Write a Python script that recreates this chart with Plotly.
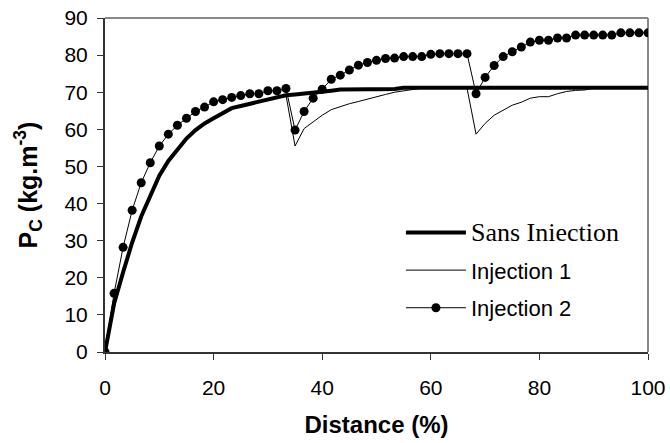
import plotly.graph_objects as go

# x grid (Distance %), 61 points
distance = [i * 100 / 60 for i in range(61)]

sans_injection = [
    0, 13, 21.5, 29.5, 36.5, 42, 47.5, 51.5, 54.5, 57.5,
    59.8, 61.6, 63.0, 64.5, 65.7, 66.3, 66.9, 67.5, 68.1, 68.6,
    69.2, 69.4, 69.6, 70.0, 70.0, 70.4, 70.7, 70.8, 70.8, 70.8,
    70.8, 70.8, 70.9, 71.2, 71.2, 71.2, 71.2, 71.2, 71.2, 71.2,
    71.2, 71.2, 71.2, 71.2, 71.2, 71.2, 71.2, 71.2, 71.2, 71.2,
    71.2, 71.2, 71.2, 71.2, 71.2, 71.2, 71.2, 71.2, 71.2, 71.2,
    71.2,
]

injection_1 = [
    0, 13, 21.5, 29.5, 36.5, 42, 47.5, 51.5, 54.5, 57.5,
    59.8, 61.6, 63.0, 64.5, 65.7, 66.3, 66.9, 67.5, 68.1, 68.6,
    69.2, 55.5, 60.2, 62.0, 63.8, 65.3, 66.2, 66.9, 67.5, 68.2,
    68.8, 69.4, 70.0, 70.4, 70.6, 71.1, 71.1, 71.1, 71.1, 71.1,
    71.1, 58.7, 61.6, 63.8, 65.2, 66.5, 67.3, 68.4, 68.8, 68.8,
    69.6, 70.2, 70.5, 70.6, 71.1, 71.1, 71.1, 71.1, 71.1, 71.1,
    71.1,
]

injection_2 = [
    0, 15.8, 28.2, 38.2, 45.6, 51.0, 55.5, 58.7, 61.1, 63.0,
    64.8, 66.0, 67.4, 68.0, 68.6, 69.1, 69.6, 69.6, 70.4, 70.4,
    71.0, 59.8, 64.8, 68.4, 70.8, 73.5, 74.6, 76.0, 77.3, 78.0,
    78.6, 79.1, 79.2, 79.6, 79.6, 79.6, 80.2, 80.4, 80.4, 80.4,
    80.4, 69.6, 74.0, 77.2, 79.6, 80.9, 82.2, 83.5, 84.0, 84.0,
    84.6, 84.6, 85.4, 85.4, 85.4, 85.4, 85.4, 86.0, 86.0, 86.0,
    86.0,
]

x_ticks = [0, 20, 40, 60, 80, 100]
y_ticks = [0, 10, 20, 30, 40, 50, 60, 70, 80, 90]

fig = go.Figure()
fig.add_trace(go.Scatter(
    x=distance, y=sans_injection, mode="lines",
    name='<span style="font-family:Liberation Serif;font-size:26px">Sans Iniection</span>',
    line=dict(color="black", width=4), legendgroup="a",
))
fig.add_trace(go.Scatter(
    x=distance, y=injection_1, mode="lines", name="Injection 1",
    line=dict(color="black", width=1), legendgroup="b",
))
fig.add_trace(go.Scatter(
    x=distance, y=injection_2, mode="lines+markers", name="Injection 2",
    line=dict(color="black", width=1),
    marker=dict(color="black", size=9, symbol="circle"), legendgroup="c",
))

font_family = "Liberation Sans, Arial, sans-serif"
fig.update_layout(
    width=670, height=443,
    margin=dict(l=105, r=22, t=18, b=91, autoexpand=False),
    paper_bgcolor="white", plot_bgcolor="white",
    font=dict(family=font_family, color="black", size=21),
    showlegend=True,
    legend=dict(
        x=0.545, y=0.42, xanchor="left", yanchor="top",
        bgcolor="rgba(0,0,0,0)", font=dict(size=22, family=font_family),
        tracegroupgap=6, traceorder="grouped", itemwidth=60,
    ),
    xaxis=dict(
        range=[0, 100], tickvals=x_ticks, showgrid=False, zeroline=False,
        automargin=False,
        showline=True, linecolor="#333333", linewidth=2,
        ticks="outside", ticklen=6, tickcolor="#333333", tickwidth=1,
        ticklabelstandoff=10,
        tickfont=dict(size=21),
        title=dict(text="<b>Distance (%)</b>", font=dict(size=24), standoff=18),
    ),
    yaxis=dict(
        range=[0, 90], tickvals=y_ticks, showgrid=False, zeroline=False,
        automargin=False,
        showline=True, linecolor="#333333", linewidth=2,
        ticks="outside", ticklen=6, tickcolor="#333333", tickwidth=1,
        ticklabelstandoff=5,
        tickfont=dict(size=21),
        title=dict(text="<b>P<sub>C</sub> (kg.m<sup>-3</sup>)</b>", font=dict(size=25), standoff=20),
    ),
    shapes=[
        dict(type="line", xref="paper", yref="paper", x0=0, x1=1, y0=1, y1=1,
             line=dict(color="#888888", width=2), layer="below"),
        dict(type="line", xref="paper", yref="paper", x0=1, x1=1, y0=0, y1=1,
             line=dict(color="#888888", width=2), layer="below"),
    ],
)

# remove the default 8px page margin so the figure sits at the window origin
fig.write_html(
    "out.html",
    config={"displayModeBar": False},
    post_script="document.body.style.margin='0';",
)
